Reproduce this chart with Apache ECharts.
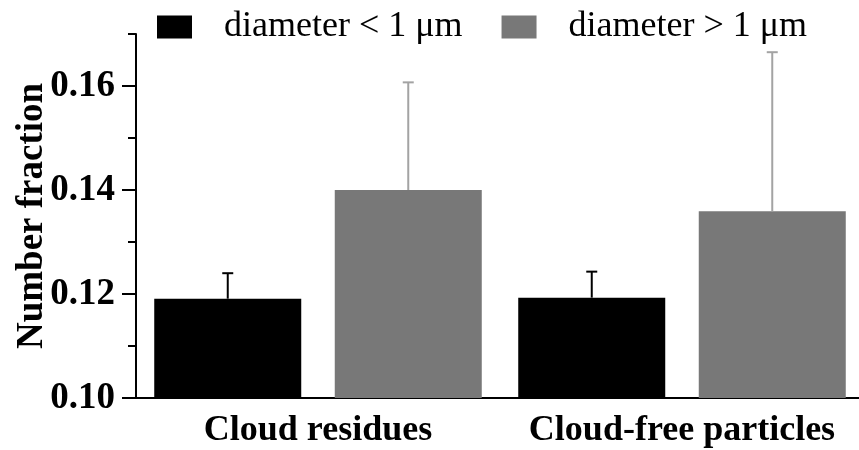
<!DOCTYPE html>
<html>
<head>
<meta charset="utf-8">
<script src="https://cdn.jsdelivr.net/npm/echarts@6/dist/echarts.min.js"></script>
<style>html,body{margin:0;padding:0;background:#fff}#c{width:859px;height:450px}</style>
</head>
<body>
<div id="c"></div>
<script>
const categories = ['Cloud residues', 'Cloud-free particles'];
const seriesNames = ['diameter < 1 \u03bcm', 'diameter > 1 \u03bcm'];
const smallValues = [0.1191, 0.1193];
const smallErrors = [0.0049, 0.0050];
const largeValues = [0.1400, 0.1359];
const largeErrors = [0.0207, 0.0306];
const majorTicks = [0.10, 0.12, 0.14, 0.16];
const minorTicks = [0.11, 0.13, 0.15, 0.17];

const FONT = "'Liberation Serif', 'Times New Roman', serif";
const BAR_W = 147;
const GAP_PX = 33.5;
const colors = ['#000000', '#787878'];
const errColors = ['#000000', '#a3a3a3'];

function errSeries(idx, vals, errs) {
  const dir = idx === 0 ? -1 : 1;
  return {
    type: 'custom',
    z: 5,
    silent: true,
    xAxisIndex: 0,
    yAxisIndex: 0,
    data: vals.map((v, i) => [i, v, errs[i]]),
    renderItem: function (params, api) {
      const c = api.value(0), v = api.value(1), e = api.value(2);
      const b = api.coord([c, v]);
      const t = api.coord([c, v + e]);
      const x = b[0] + dir * (BAR_W + GAP_PX) / 2;
      const style = { stroke: errColors[idx], lineWidth: 2 };
      return {
        type: 'group',
        children: [
          { type: 'line', shape: { x1: x, y1: b[1], x2: x, y2: t[1] }, style: style },
          { type: 'line', shape: { x1: x - 5.5, y1: t[1], x2: x + 5.5, y2: t[1] }, style: style }
        ]
      };
    }
  };
}

const chart = echarts.init(document.getElementById('c'));
chart.setOption({
  backgroundColor: '#fff',
  animation: false,
  legend: {
    left: 152,
    top: 4,
    itemWidth: 35,
    itemHeight: 23,
    itemGap: 39,
    icon: 'rect',
    data: seriesNames,
    textStyle: { fontFamily: FONT, fontSize: 36, color: '#000', padding: [0, 0, 0, 27] }
  },
  grid: { left: 136, top: 34, width: 728, bottom: 52, containLabel: false, outerBoundsMode: 'none' },
  xAxis: {
    type: 'category',
    data: categories,
    axisLine: { lineStyle: { color: '#000', width: 2 } },
    axisTick: { interval: 0, length: 13, lineStyle: { color: '#000', width: 2 } },
    axisLabel: { interval: 0, fontFamily: FONT, fontSize: 36, fontWeight: 'bold', color: '#000', margin: 15 }
  },
  yAxis: [
    {
      type: 'value',
      position: 'left',
      min: 0.10,
      max: 0.17,
      interval: 0.01,
      name: 'Number fraction',
      nameLocation: 'middle',
      nameGap: 85,
      nameMoveOverlap: false,
      nameTextStyle: { fontFamily: FONT, fontSize: 37, fontWeight: 'bold', color: '#000' },
      axisLine: { show: true, lineStyle: { color: '#000', width: 2 } },
      axisTick: { show: true, length: 14, customValues: majorTicks, lineStyle: { color: '#000', width: 2 } },
      axisLabel: {
        customValues: majorTicks,
        margin: 21,
        fontFamily: FONT, fontSize: 37, fontWeight: 'bold', color: '#000',
        formatter: v => v.toFixed(2)
      },
      splitLine: { show: false }
    },
    {
      type: 'value',
      position: 'left',
      min: 0.10,
      max: 0.17,
      interval: 0.01,
      axisLine: { show: false },
      axisTick: { show: true, length: 8, customValues: minorTicks, lineStyle: { color: '#000', width: 2 } },
      axisLabel: { show: false },
      splitLine: { show: false }
    }
  ],
  series: [
    { name: seriesNames[0], type: 'bar', data: smallValues, barWidth: BAR_W, barGap: (GAP_PX / BAR_W * 100).toFixed(1) + '%', itemStyle: { color: colors[0] } },
    { name: seriesNames[1], type: 'bar', data: largeValues, barWidth: BAR_W, itemStyle: { color: colors[1] } },
    errSeries(0, smallValues, smallErrors),
    errSeries(1, largeValues, largeErrors)
  ]
});
</script>
</body>
</html>
